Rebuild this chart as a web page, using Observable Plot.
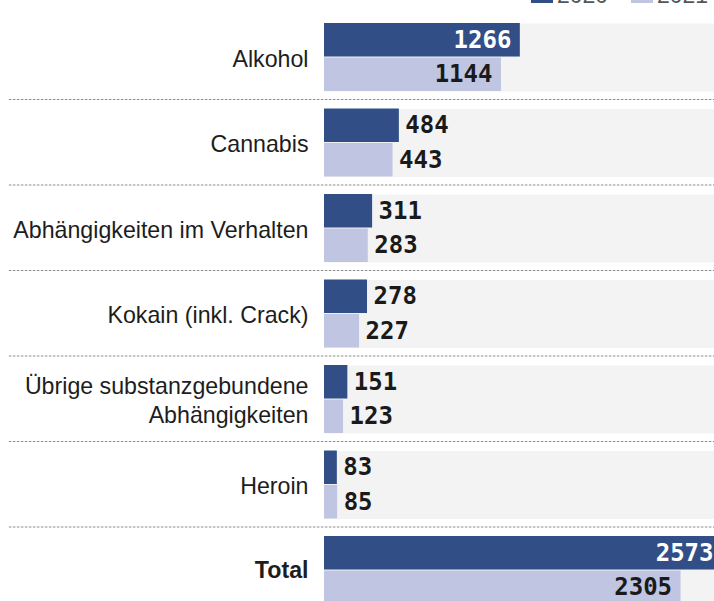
<!DOCTYPE html>
<html>
<head>
<meta charset="utf-8">
<script src="https://cdn.jsdelivr.net/npm/d3@7"></script>
<script src="https://cdn.jsdelivr.net/npm/@observablehq/plot@0.6"></script>
<style>
html, body { margin: 0; padding: 0; background: #fff; overflow: hidden; width: 714px; height: 601px; }
#wrap { position: relative; width: 714px; height: 601px; overflow: hidden; }
#chart { position: absolute; top: 0; left: 0; }
.item { position: absolute; top: -13px; height: 16px; display: flex; align-items: flex-end; white-space: nowrap;
        font: 23px "Liberation Sans", Arial, sans-serif; color: #555; line-height: 16px; }
.sw { display: inline-block; width: 22px; height: 16px; margin-right: 4px; }
</style>
</head>
<body>
<div id="wrap">
  <div id="chart"></div>
  <div id="legend"></div>
</div>
<script>
// ---- data ----
const categories = [
  "Alkohol",
  "Cannabis",
  "Abhängigkeiten im Verhalten",
  "Kokain (inkl. Crack)",
  "Übrige substanzgebundene\nAbhängigkeiten",
  "Heroin",
  "Total"
];
const values2020 = [1266, 484, 311, 278, 151, 83, 2573];
const values2021 = [1144, 443, 283, 227, 123, 85, 2305];
const years = ["2020", "2021"];
const colors = ["#314f86", "#c0c5e1"];

const rows = categories.flatMap((c, i) => [
  {cat: c, year: years[0], value: values2020[i]},
  {cat: c, year: years[1], value: values2021[i]}
]);
const cats = categories.map(c => ({cat: c}));
const totalCat = categories[categories.length - 1];
const insideMin = 1000;

const labelFont = "'Liberation Sans', Arial, Helvetica, sans-serif";
const numFont = "'DejaVu Sans Mono', monospace";

// legend (partly above the visible area, as in the reference)
const legend = document.getElementById("legend");
years.forEach((y, i) => {
  const it = document.createElement("div");
  it.className = "item";
  it.style.left = (531 + i * 100) + "px";
  const sw = document.createElement("span");
  sw.className = "sw";
  sw.style.background = colors[i];
  it.appendChild(sw);
  it.appendChild(document.createTextNode(y));
  legend.appendChild(it);
});

const chart = Plot.plot({
  width: 722,
  height: 616,
  marginLeft: 324,
  marginRight: 0,
  marginTop: 23,
  marginBottom: 12,
  style: "max-width:none;overflow:hidden;background:transparent;",
  x: {domain: [0, 2573], axis: null},
  y: {domain: years, axis: null, paddingInner: 0.028, paddingOuter: 0, round: false},
  fy: {domain: categories, axis: null, paddingInner: 0.2047, paddingOuter: 0, round: false},
  color: {domain: years, range: colors},
  marks: [
    Plot.frame({fill: "#f3f3f3", stroke: null}),
    Plot.frame({anchor: "bottom", dy: 8, insetLeft: -315, stroke: "#8a8a8a", strokeWidth: 1.2, strokeDasharray: "1.3,2.7"}),
    Plot.barX(rows, {fy: "cat", y: "year", x: "value", fill: "year"}),
    Plot.text(rows, {
      filter: d => d.value >= insideMin && d.year === years[0],
      fy: "cat", y: "year", x: "value", text: d => String(d.value),
      textAnchor: "end", dx: -9, fill: "white",
      fontFamily: numFont, fontWeight: "bold", fontSize: 24
    }),
    Plot.text(rows, {
      filter: d => d.value >= insideMin && d.year === years[1],
      fy: "cat", y: "year", x: "value", text: d => String(d.value),
      textAnchor: "end", dx: -9, fill: "#1a1a1a",
      fontFamily: numFont, fontWeight: "bold", fontSize: 24
    }),
    Plot.text(rows, {
      filter: d => d.value < insideMin,
      fy: "cat", y: "year", x: "value", text: d => String(d.value),
      textAnchor: "start", dx: 6, fill: "#1a1a1a",
      fontFamily: numFont, fontWeight: "bold", fontSize: 24
    }),
    Plot.text(cats, {
      filter: d => d.cat !== totalCat,
      fy: "cat", text: "cat", frameAnchor: "left", textAnchor: "end", dx: -16,
      fill: "#1d1d1d", fontFamily: labelFont, fontSize: 23.2, lineHeight: 1.22
    }),
    Plot.text(cats, {
      filter: d => d.cat === totalCat,
      fy: "cat", text: "cat", frameAnchor: "left", textAnchor: "end", dx: -16,
      fill: "#1d1d1d", fontFamily: labelFont, fontSize: 23.2, fontWeight: "bold"
    })
  ]
});
document.getElementById("chart").appendChild(chart);
</script>
</body>
</html>
